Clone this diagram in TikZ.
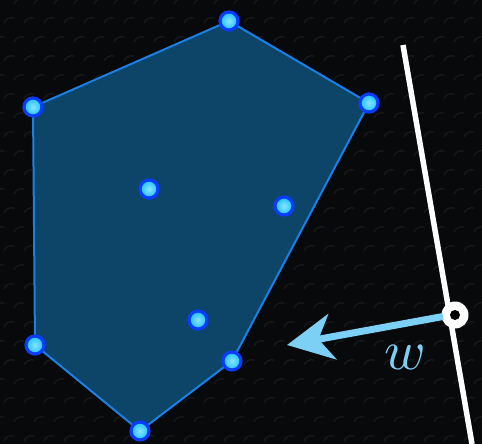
\documentclass[tikz,border=0pt]{standalone}
\usetikzlibrary{arrows.meta}
\definecolor{bg}{HTML}{07090B}
\definecolor{hullfill}{HTML}{0E4C74}
\definecolor{hulledge}{HTML}{1A80E6}
\definecolor{ptring}{HTML}{0A3CFF}
\definecolor{ptcore}{HTML}{18C4FF}
\definecolor{arrowc}{HTML}{7DD0F5}
\tikzset{
  pt/.style={circle, draw=ptring, line width=3.2pt, inner sep=0pt, minimum size=18pt,
    inner color=ptcore!50!white, outer color=ptcore},
  hex/.style={draw=white, opacity=0.07, line width=1.2pt}
}
\begin{document}
\begin{tikzpicture}[x=1pt,y=-1pt]
\fill[bg] (0,0) rectangle (482,444);
\useasboundingbox (0,0) rectangle (482,444);
% subtle texture
\foreach \r in {0,...,23}{
  \foreach \c in {0,...,25}{
    \pgfmathsetmacro{\xx}{\c*20 + mod(\r,2)*10}
    \pgfmathsetmacro{\yy}{\r*19}
    \draw[hex] (\xx-6,\yy+4) arc[start angle=200,end angle=290,radius=8];
  }
}
% points
\coordinate (a) at (33,107);
\coordinate (b) at (229,21);
\coordinate (c) at (369,103);
\coordinate (d) at (149,189);
\coordinate (e) at (284,206);
\coordinate (f) at (35,345);
\coordinate (g) at (198,320);
\coordinate (h) at (232,361);
\coordinate (i) at (140,431);
\filldraw[fill=hullfill, fill opacity=0.9, draw=hulledge, line width=2pt, line join=round]
  (a) -- (b) -- (c) -- (h) -- (i) -- (f) -- cycle;
\foreach \p in {a,b,c,d,e,f,g,h,i}{
  \node[pt] (n\p) at (\p) {};
}
% separating line
\coordinate (lt) at (403,45);
\coordinate (lb) at (472,444);
\draw[white, line width=5.5pt] (lt) -- (lb);
\node[circle, fill=white, minimum size=27pt, inner sep=0pt] (o) at (455,315) {};
\node[circle, fill=black, minimum size=10pt, inner sep=0pt] (oi) at (o) {};
\coordinate (tip) at (287,345);
\draw[arrowc, line width=7pt, -{Stealth[length=46pt,width=46pt,inset=14pt]}] (o.center) ++(-12,1.5) -- (tip);
\node[text=arrowc, inner sep=0pt] (w) at (405,357) {\scalebox{5.6}{$w$}};
\end{tikzpicture}
\end{document}
